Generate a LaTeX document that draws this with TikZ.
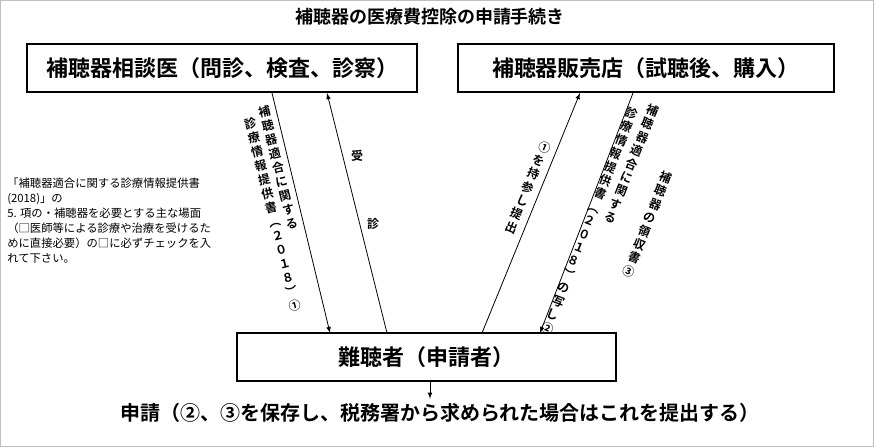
\documentclass[tikz,border=0pt]{standalone}
\usepackage{fontspec}
\setmainfont{Noto Sans CJK JP}[BoldFont={* Bold}]
\begin{document}
\begin{tikzpicture}[x=0.75pt,y=-0.75pt,
  box/.style={draw,line width=1.2pt,minimum height=48*0.75pt,font=\fontsize{16.5}{18}\selectfont\bfseries,inner sep=0},
  vcol/.style={align=center,inner sep=0,font=\fontsize{9}{10.8}\selectfont\bfseries,anchor=north},
  arr/.style={-latex,line width=0.6pt}]
\draw[gray!50,line width=0.8pt] (0.5,0.5) rectangle (873.5,446.5);
\useasboundingbox (0,0) rectangle (874,447);
\node[font=\fontsize{13.5}{16}\selectfont\bfseries] (title) at (430,17) {補聴器の医療費控除の申請手続き};
\node[box,minimum width=390*0.75pt] (doc) at (222,68) {補聴器相談医（問診、検査、診察）};
\node[box,minimum width=376*0.75pt] (shop) at (646,68) {補聴器販売店（試聴後、購入）};
\node[box,minimum width=379*0.75pt] (pat) at (426.5,357) {難聴者（申請者）};
\node[font=\fontsize{15}{18}\selectfont\bfseries] (app) at (440,413) {申請（②、③を保存し、税務署から求められた場合はこれを提出する）};
\coordinate (d1) at (272,93); \coordinate (d2) at (330,333);
\coordinate (d3) at (327,93); \coordinate (d4) at (387,333);
\coordinate (s1) at (580,93); \coordinate (s2) at (482,333);
\coordinate (s3) at (633,93); \coordinate (s4) at (540,333);
\draw[arr] (d1) -- (d2);
\draw[arr] (d4) -- (d3);
\draw[arr] (s2) -- (s1);
\draw[arr] (s3) -- (s4);
\coordinate (p0) at (430,381);
\draw[arr] (p0) -- (p0 |- app.north);
\node[vcol,rotate=13.7] (l1a) at (263,106) {補\\聴\\器\\適\\合\\に\\関\\す\\る};
\node[vcol,rotate=13.7] (l1b) at (249,118) {診\\療\\情\\報\\提\\供\\書\\︵\\２\\０\\１\\８\\︶\\①};
\node[vcol] (ju) at (357,150) {受};
\node[vcol] (shin) at (373,218) {診};
\node[vcol,rotate=-22.6] (r1) at (547,142) {①\\を\\持\\参\\し\\提\\出};
\node[vcol,rotate=-21.4] (r2a) at (655,105) {補\\聴\\器\\適\\合\\に\\関\\す\\る};
\node[vcol,rotate=-21.4] (r2b) at (634,108) {診\\療\\情\\報\\提\\供\\書\\︵\\２\\０\\１\\８\\︶\\の\\写\\し\\②};
\node[vcol,rotate=-21.4] (r3) at (668,172) {補\\聴\\器\\の\\領\\収\\書\\③};
\node[anchor=north west,align=left,inner sep=0,font=\fontsize{8.5}{11.2}\selectfont] (note) at (7,178)
 {「補聴器適合に関する診療情報提供書\\(2018)」の\\5. 項の・補聴器を必要とする主な場面\\（□医師等による診療や治療を受けるた\\めに直接必要）の□に必ずチェックを入\\れて下さい。};
\end{tikzpicture}
\end{document}
